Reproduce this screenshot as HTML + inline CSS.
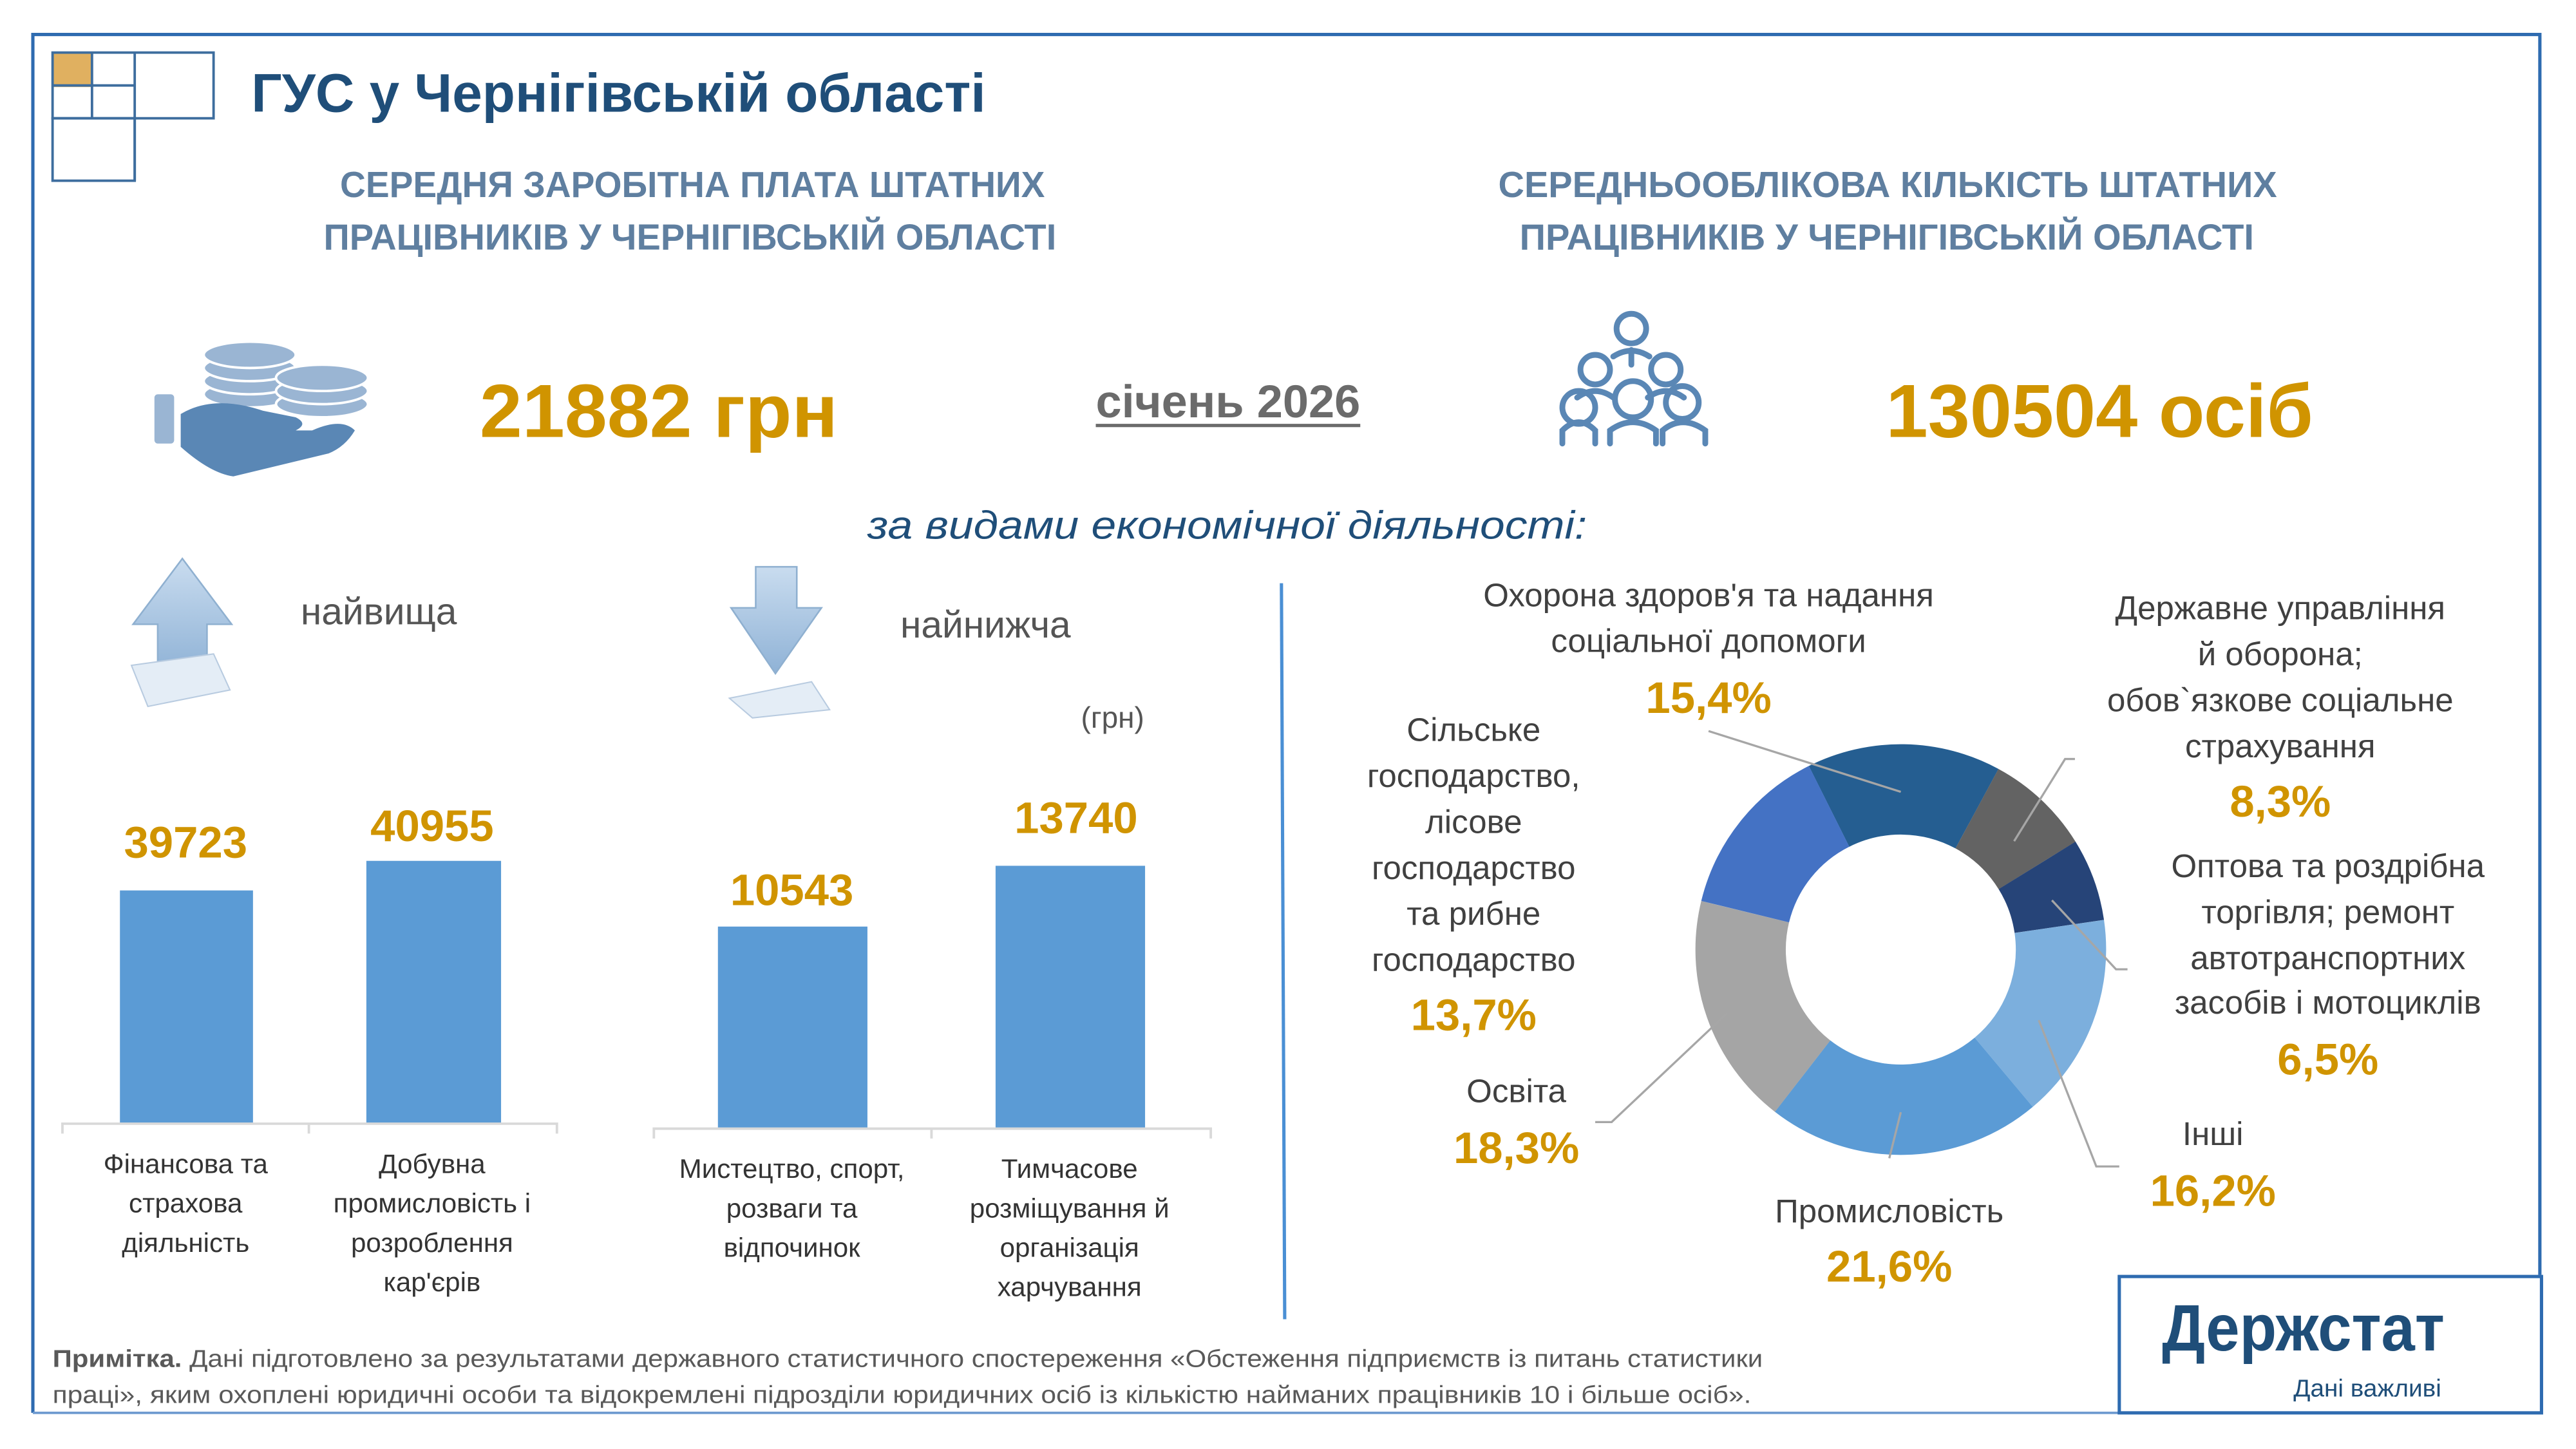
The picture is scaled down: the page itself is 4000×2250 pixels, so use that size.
<!DOCTYPE html>
<html><head><meta charset="utf-8"><style>
html,body{margin:0;padding:0;background:#fff;}
svg{display:block;}
text{font-family:"Liberation Sans Narrow","Liberation Sans",sans-serif;}
</style></head><body>
<svg width="4000" height="2250" viewBox="0 0 1568 882" preserveAspectRatio="none" xmlns="http://www.w3.org/2000/svg">
<rect width="1568" height="882" fill="#fff"/>
<!-- frame -->
<polyline points="20,860 20,21 1546,21 1546,776" fill="none" stroke="#2e6bb0" stroke-width="2"/>
<line x1="20" y1="860" x2="1290" y2="860" stroke="#6f9bd0" stroke-width="1.5"/>
<!-- logo squares -->
<rect x="32" y="32" width="24" height="21" fill="#e0b060"/>
<g fill="none" stroke="#3d6d9e" stroke-width="1.5">
<rect x="32" y="32" width="98" height="40"/>
<line x1="56" y1="32" x2="56" y2="72"/><line x1="82" y1="32" x2="82" y2="110"/>
<line x1="32" y1="52" x2="82" y2="52"/>
<rect x="32" y="72" width="50" height="38"/>
</g>
<text x="153" y="68" font-size="33" font-weight="bold" fill="#1f4e79" textLength="447" lengthAdjust="spacingAndGlyphs">ГУС у Чернігівській області</text>
<!-- headings -->
<g font-size="22" font-weight="bold" fill="#5f7fa0">
<text x="207" y="120" textLength="429" lengthAdjust="spacingAndGlyphs">СЕРЕДНЯ ЗАРОБІТНА ПЛАТА ШТАТНИХ</text>
<text x="197" y="152" textLength="446" lengthAdjust="spacingAndGlyphs">ПРАЦІВНИКІВ У ЧЕРНІГІВСЬКІЙ ОБЛАСТІ</text>
<text x="912" y="120" textLength="474" lengthAdjust="spacingAndGlyphs">СЕРЕДНЬООБЛІКОВА КІЛЬКІСТЬ ШТАТНИХ</text>
<text x="925" y="152" textLength="447" lengthAdjust="spacingAndGlyphs">ПРАЦІВНИКІВ У ЧЕРНІГІВСЬКІЙ ОБЛАСТІ</text>
</g>
<!-- coins icon -->
<g>
<rect x="94" y="240" width="12" height="30" rx="2" fill="#9ab5d3"/>
<g fill="#9ab5d3" stroke="#fff" stroke-width="1.5">
<ellipse cx="152" cy="240" rx="28" ry="8"/><ellipse cx="152" cy="232" rx="28" ry="8"/><ellipse cx="152" cy="224" rx="28" ry="8"/><ellipse cx="152" cy="216" rx="28" ry="8"/>
<ellipse cx="196" cy="246" rx="28" ry="8"/><ellipse cx="196" cy="238" rx="28" ry="8"/><ellipse cx="196" cy="230" rx="28" ry="8"/>
</g>
<path d="M110,252 Q130,240 160,250 L180,254 Q188,258 180,262 L158,262 L190,262 Q208,254 216,262 Q210,272 200,276 L142,290 Q128,288 110,272 Z" fill="#5a87b5"/>
</g>
<text x="292" y="266" font-size="46" font-weight="bold" fill="#d09400" textLength="218" lengthAdjust="spacingAndGlyphs">21882 грн</text>
<text x="667" y="254" font-size="28" font-weight="bold" fill="#6b6b6b" textLength="161" lengthAdjust="spacingAndGlyphs">січень 2026</text>
<line x1="667" y1="259" x2="828" y2="259" stroke="#6b6b6b" stroke-width="2"/>
<!-- people icon -->
<g fill="none" stroke="#5a87b5" stroke-width="3.5" stroke-linecap="round">
<circle cx="993" cy="200" r="9"/><path d="M982,217 Q993,210 1004,217 M993,213 V222"/>
<circle cx="971" cy="225" r="9"/><circle cx="1014" cy="225" r="9"/>
<path d="M960,242 Q971,234 982,242 M1003,242 Q1014,234 1025,242"/>
<circle cx="961" cy="248" r="10"/><circle cx="994" cy="243" r="11"/><circle cx="1024" cy="245" r="10"/>
<path d="M951,270 V262 Q961,252 971,262 V270 M980,270 V262 Q994,252 1008,262 V270 M1012,270 V262 Q1024,252 1038,262 V270"/>
</g>
<text x="1148" y="266" font-size="46" font-weight="bold" fill="#d09400" textLength="260" lengthAdjust="spacingAndGlyphs">130504 осіб</text>
<text x="528" y="328" font-size="24" font-style="italic" fill="#1f4e79" textLength="438" lengthAdjust="spacingAndGlyphs">за видами економічної діяльності:</text>
<!-- arrows -->
<defs><linearGradient id="ag" x1="0" y1="0" x2="0" y2="1"><stop offset="0" stop-color="#c9dcef"/><stop offset="1" stop-color="#8fb2d6"/></linearGradient></defs>
<polygon points="111,340 141,380 126,380 126,410 96,410 96,380 81,380" fill="url(#ag)" stroke="#8fb0d0"/>
<polygon points="80,405 130,398 140,420 90,430" fill="#e4edf6" stroke="#b8cbe0" stroke-width="0.8"/>
<text x="183" y="380" font-size="23" fill="#555">найвища</text>
<polygon points="460,345 485,345 485,370 500,370 472,410 445,370 460,370" fill="url(#ag)" stroke="#8fb0d0"/>
<polygon points="444,425 494,415 505,432 458,437" fill="#e4edf6" stroke="#b8cbe0" stroke-width="0.8"/>
<text x="548" y="388" font-size="23" fill="#555">найнижча</text>
<text x="658" y="443" font-size="18" fill="#555">(грн)</text>
<!-- bars left -->
<rect x="73" y="542" width="81" height="142" fill="#5b9bd5"/>
<rect x="223" y="524" width="82" height="160" fill="#5b9bd5"/>
<polyline points="38,690 38,684 339,684 339,690" fill="none" stroke="#d9d9d9" stroke-width="1.5"/>
<line x1="188" y1="684" x2="188" y2="690" stroke="#d9d9d9" stroke-width="1.5"/>
<g font-size="27" font-weight="bold" fill="#d09400" text-anchor="middle">
<text x="113" y="522">39723</text><text x="263" y="512">40955</text>
<text x="482" y="551">10543</text><text x="655" y="507">13740</text>
</g>
<g font-size="16.5" fill="#333" text-anchor="middle">
<text x="113" y="714">Фінансова та</text><text x="113" y="738">страхова</text><text x="113" y="762">діяльність</text>
<text x="263" y="714">Добувна</text><text x="263" y="738">промисловість і</text><text x="263" y="762">розроблення</text><text x="263" y="786">кар'єрів</text>
<text x="482" y="717">Мистецтво, спорт,</text><text x="482" y="741">розваги та</text><text x="482" y="765">відпочинок</text>
<text x="651" y="717">Тимчасове</text><text x="651" y="741">розміщування й</text><text x="651" y="765">організація</text><text x="651" y="789">харчування</text>
</g>
<!-- bars right -->
<rect x="437" y="564" width="91" height="123" fill="#5b9bd5"/>
<rect x="606" y="527" width="91" height="160" fill="#5b9bd5"/>
<polyline points="398,693 398,687 737,687 737,693" fill="none" stroke="#d9d9d9" stroke-width="1.5"/>
<line x1="567" y1="687" x2="567" y2="693" stroke="#d9d9d9" stroke-width="1.5"/>
<line x1="780" y1="355" x2="782" y2="803" stroke="#4a8fd4" stroke-width="2"/>
<!-- donut -->
<g fill="none" stroke-width="55">
<circle cx="1157" cy="578" r="97.5" stroke="#255e91" stroke-dasharray="93.6 612.6" transform="rotate(-116.6 1157 578)"/>
<circle cx="1157" cy="578" r="97.5" stroke="#636363" stroke-dasharray="50.9 612.6" transform="rotate(-61.6 1157 578)"/>
<circle cx="1157" cy="578" r="97.5" stroke="#264478" stroke-dasharray="39.8 612.6" transform="rotate(-31.7 1157 578)"/>
<circle cx="1157" cy="578" r="97.5" stroke="#7cafdd" stroke-dasharray="99.2 612.6" transform="rotate(-8.3 1157 578)"/>
<circle cx="1157" cy="578" r="97.5" stroke="#5b9bd5" stroke-dasharray="132.4 612.6" transform="rotate(50 1157 578)"/>
<circle cx="1157" cy="578" r="97.5" stroke="#a5a5a5" stroke-dasharray="112.1 612.6" transform="rotate(127.8 1157 578)"/>
<circle cx="1157" cy="578" r="97.5" stroke="#4472c4" stroke-dasharray="84.6 612.6" transform="rotate(193.7 1157 578)"/>
</g>
<g fill="none" stroke="#a6a6a6" stroke-width="1.3">
<polyline points="1040,445 1157,482"/>
<polyline points="1226,512 1257,462 1263,462"/>
<polyline points="1249,548 1288,590 1295,590"/>
<polyline points="1241,621 1276,710 1290,710"/>
<polyline points="1157,677 1150,705"/>
<polyline points="1051,617 981,683 971,683"/>
</g>
<g font-size="20" fill="#404040" text-anchor="middle">
<text x="1040" y="369">Охорона здоров'я та надання</text><text x="1040" y="397">соціальної допомоги</text>
<text x="1388" y="377">Державне управління</text><text x="1388" y="405">й оборона;</text><text x="1388" y="433">обов`язкове соціальне</text><text x="1388" y="461">страхування</text>
<text x="1417" y="534">Оптова та роздрібна</text><text x="1417" y="562">торгівля; ремонт</text><text x="1417" y="590">автотранспортних</text><text x="1417" y="617">засобів і мотоциклів</text>
<text x="1347" y="697">Інші</text>
<text x="1150" y="744">Промисловість</text>
<text x="923" y="671">Освіта</text>
<text x="897" y="451">Сільське</text><text x="897" y="479">господарство,</text><text x="897" y="507">лісове</text><text x="897" y="535">господарство</text><text x="897" y="563">та рибне</text><text x="897" y="591">господарство</text>
</g>
<g font-size="27" font-weight="bold" fill="#d09400" text-anchor="middle">
<text x="1040" y="434">15,4%</text><text x="1388" y="497">8,3%</text><text x="1417" y="654">6,5%</text>
<text x="1347" y="734">16,2%</text><text x="1150" y="780">21,6%</text><text x="923" y="708">18,3%</text><text x="897" y="627">13,7%</text>
</g>
<!-- footer -->
<text x="32" y="832" font-size="15" fill="#595959" textLength="1041" lengthAdjust="spacingAndGlyphs"><tspan font-weight="bold">Примітка.</tspan> Дані підготовлено за результатами державного статистичного спостереження «Обстеження підприємств із питань статистики</text>
<text x="32" y="854" font-size="15" fill="#595959" textLength="1034" lengthAdjust="spacingAndGlyphs">праці», яким охоплені юридичні особи та відокремлені підрозділи юридичних осіб із кількістю найманих працівників 10 і більше осіб».</text>
<rect x="1290" y="777" width="257" height="83" fill="#fff" stroke="#2e6bb0" stroke-width="2"/>
<text x="1316" y="822" font-size="40" font-weight="bold" fill="#1f4e79" textLength="172" lengthAdjust="spacingAndGlyphs">Держстат</text>
<text x="1396" y="850" font-size="15" fill="#1f4e79" textLength="90" lengthAdjust="spacingAndGlyphs">Дані важливі</text>
</svg>
</body></html>
